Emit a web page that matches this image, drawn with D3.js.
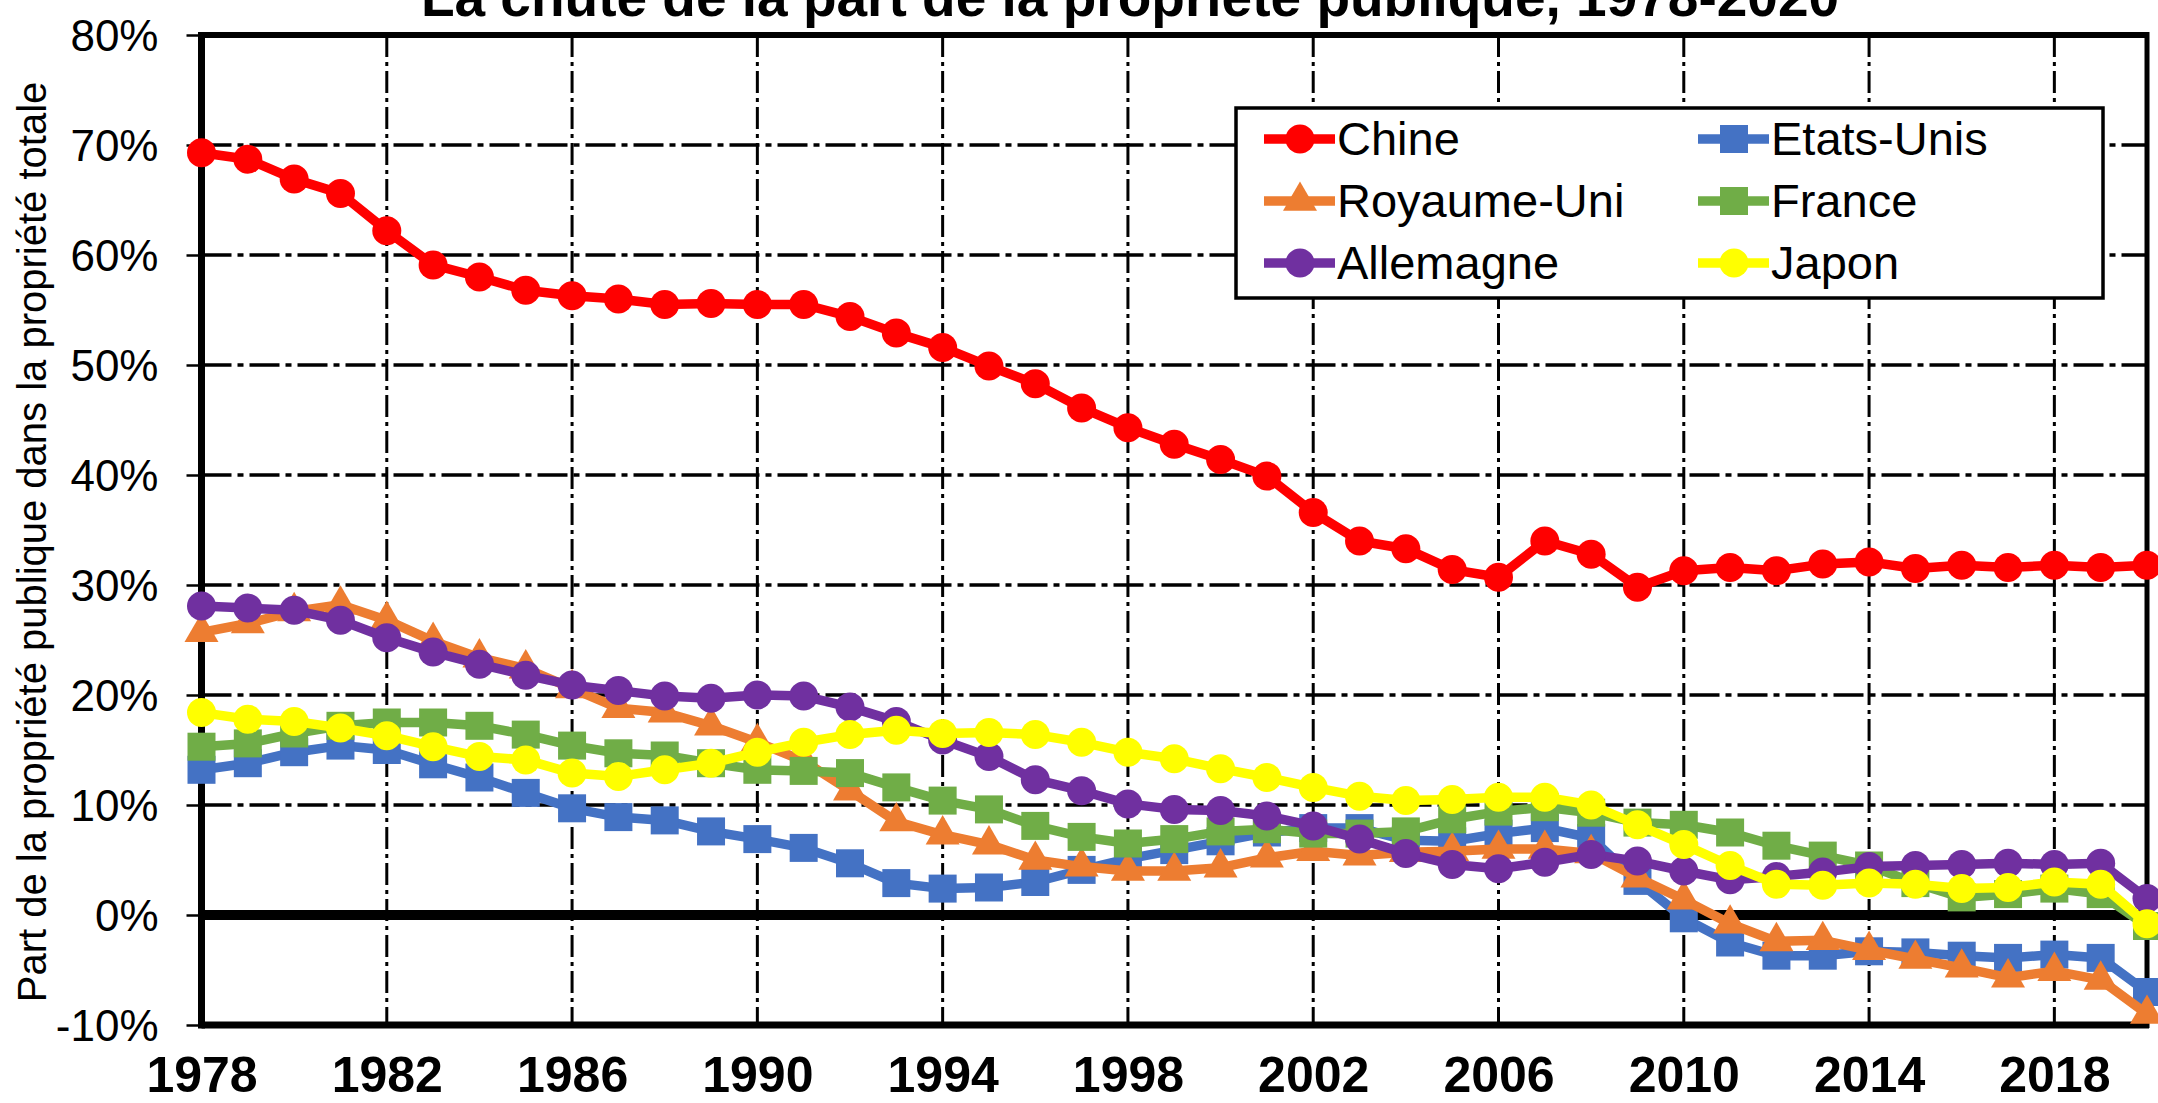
<!DOCTYPE html>
<html><head><meta charset="utf-8">
<script src="https://cdn.jsdelivr.net/npm/d3@7"></script>
<style>html,body{margin:0;padding:0;background:#fff;overflow:hidden}</style>
</head><body><svg id="c" width="2158" height="1103"></svg>
<script>
const years = [1978,1979,1980,1981,1982,1983,1984,1985,1986,1987,1988,1989,1990,1991,1992,1993,1994,1995,1996,1997,1998,1999,2000,2001,2002,2003,2004,2005,2006,2007,2008,2009,2010,2011,2012,2013,2014,2015,2016,2017,2018,2019,2020];
const chine = [69.3,68.7,66.9,65.6,62.2,59.1,58.0,56.8,56.3,56.0,55.5,55.6,55.5,55.5,54.4,52.9,51.6,49.9,48.3,46.1,44.3,42.8,41.4,39.9,36.6,34.0,33.3,31.4,30.7,34.0,32.8,29.8,31.3,31.6,31.3,31.9,32.1,31.5,31.8,31.6,31.8,31.6,31.8];
const etatsUnis = [13.2,13.8,14.8,15.4,15.0,13.7,12.5,11.1,9.7,8.9,8.6,7.6,6.9,6.1,4.7,2.9,2.4,2.5,3.0,4.1,5.1,5.9,6.7,7.5,7.9,7.9,6.8,6.7,7.4,7.9,7.0,3.1,-0.3,-2.5,-3.7,-3.7,-3.3,-3.4,-3.7,-3.9,-3.6,-3.9,-7.0];
const royaumeUni = [25.7,26.5,27.6,28.2,26.8,24.9,23.4,22.4,20.6,18.8,18.4,17.2,15.7,14.0,11.3,8.5,7.3,6.4,5.0,4.4,4.0,4.0,4.3,5.2,5.8,5.4,5.7,5.8,6.0,6.0,5.6,3.4,1.4,-0.8,-2.4,-2.3,-3.2,-4.0,-4.8,-5.7,-5.1,-5.9,-9.0];
const france = [15.3,15.6,16.5,17.2,17.5,17.5,17.2,16.4,15.4,14.7,14.5,13.8,13.2,13.1,12.9,11.6,10.4,9.6,8.1,7.1,6.5,6.9,7.6,7.8,7.4,7.4,7.6,8.7,9.4,9.8,9.3,8.4,8.2,7.5,6.3,5.4,4.5,2.9,1.6,1.9,2.4,1.9,-1.0];
const allemagne = [28.1,27.9,27.7,26.8,25.2,23.9,22.8,21.8,20.9,20.4,19.9,19.7,20.0,19.9,18.9,17.6,15.9,14.4,12.3,11.3,10.1,9.6,9.5,9.0,8.1,6.9,5.6,4.6,4.2,4.8,5.5,4.9,4.0,3.2,3.5,3.9,4.4,4.5,4.6,4.7,4.6,4.7,1.5];
const japon = [18.4,17.8,17.6,17.0,16.3,15.3,14.4,14.1,12.9,12.6,13.2,13.8,14.8,15.7,16.4,16.8,16.5,16.6,16.4,15.7,14.8,14.2,13.3,12.5,11.6,10.8,10.4,10.5,10.7,10.7,10.0,8.2,6.4,4.5,2.8,2.7,2.9,2.8,2.4,2.5,3.0,2.8,-0.8];

const seriesNames = ["Chine","Etats-Unis","Royaume-Uni","France","Allemagne","Japon"];
const seriesValues = [chine, etatsUnis, royaumeUni, france, allemagne, japon];
const seriesColors = ["#ff0000","#4472c4","#ed7d31","#70ad47","#7030a0","#ffff00"];
const seriesSymbols = ["circle","square","triangle","square","circle","circle"];
const yTickValues = [-10,0,10,20,30,40,50,60,70,80];
const xTickValues = [1978,1982,1986,1990,1994,1998,2002,2006,2010,2014,2018];
const titleText = "La chute de la part de la propriété publique, 1978-2020";
const yAxisTitle = "Part de la propriété publique dans la propriété totale";

const FONT = "'Liberation Sans', Arial, Helvetica, sans-serif";
const svg = d3.select("#c");
const x = d3.scaleLinear().domain([1978, 2020]).range([201.5, 2147]);
const y = d3.scaleLinear().domain([-10, 80]).range([1025, 35]);
const [X0, X1] = x.range();
const [Y0, Y1] = y.range();

// horizontal gridlines
svg.append("g").selectAll("line")
  .data(yTickValues.filter(v => v > 0 && v < 80))
  .join("line")
  .attr("x1", X0).attr("x2", X1)
  .attr("y1", d => y(d)).attr("y2", d => y(d))
  .attr("stroke", "#000").attr("stroke-width", 3.5)
  .attr("stroke-dasharray", "30,6,6,6");

// vertical gridlines
svg.append("g").selectAll("line")
  .data(xTickValues.filter(v => v > 1978))
  .join("line")
  .attr("x1", d => x(d)).attr("x2", d => x(d))
  .attr("y1", Y1).attr("y2", Y0)
  .attr("stroke", "#000").attr("stroke-width", 3)
  .attr("stroke-dasharray", "22,5,4,5");

// y axis (ticks + labels)
const yAxis = svg.append("g").attr("transform", `translate(${X0},0)`)
  .call(d3.axisLeft(y).tickValues(yTickValues).tickSize(15).tickPadding(28).tickFormat(d => d + "%"));
yAxis.select(".domain").remove();
yAxis.selectAll(".tick line").attr("stroke", "#000").attr("stroke-width", 2.5);
yAxis.selectAll(".tick text").attr("font-family", FONT).attr("font-size", 44).attr("fill", "#000").attr("dy", "0.35em");

// x axis labels
const xAxis = svg.append("g").attr("transform", `translate(0,${Y0})`)
  .call(d3.axisBottom(x).tickValues(xTickValues).tickSize(0).tickFormat(d3.format("d")));
xAxis.select(".domain").remove();
xAxis.selectAll(".tick text").attr("font-family", FONT).attr("font-size", 50).attr("font-weight", "bold")
  .attr("fill", "#000").attr("y", 67).attr("dy", 0);

// plot border
svg.append("line").attr("x1", X0).attr("x2", X1 + 2).attr("y1", Y1).attr("y2", Y1).attr("stroke", "#000").attr("stroke-width", 6);
svg.append("line").attr("x1", X0).attr("x2", X0).attr("y1", Y1 - 3).attr("y2", Y0 + 3.5).attr("stroke", "#000").attr("stroke-width", 7);
svg.append("line").attr("x1", X1).attr("x2", X1).attr("y1", Y1 - 3).attr("y2", Y0 + 3).attr("stroke", "#000").attr("stroke-width", 5);
svg.append("line").attr("x1", X0).attr("x2", X1 + 2).attr("y1", Y0).attr("y2", Y0).attr("stroke", "#000").attr("stroke-width", 7);
// zero line
svg.append("line").attr("x1", X0).attr("x2", X1).attr("y1", y(0)).attr("y2", y(0)).attr("stroke", "#000").attr("stroke-width", 10);

// series
const symbolType = {circle: d3.symbolCircle, square: d3.symbolSquare, triangle: d3.symbolTriangle};
const symbolSize = {circle: Math.PI * 14.5 * 14.5, square: 28 * 28, triangle: 500};
const line = d3.line().x((d, i) => x(years[i])).y(d => y(d));

seriesValues.forEach((vals, si) => {
  const g = svg.append("g");
  g.append("path").attr("d", line(vals)).attr("fill", "none")
    .attr("stroke", seriesColors[si]).attr("stroke-width", 9.5).attr("stroke-linejoin", "round");
  const sym = d3.symbol().type(symbolType[seriesSymbols[si]]).size(symbolSize[seriesSymbols[si]]);
  g.selectAll("path.m").data(vals).join("path").attr("class", "m")
    .attr("transform", (d, i) => `translate(${x(years[i])},${y(d)})`)
    .attr("d", sym).attr("fill", seriesColors[si]);
});

// legend
const legend = svg.append("g");
legend.append("rect").attr("x", 1236).attr("y", 108).attr("width", 867).attr("height", 190)
  .attr("fill", "#fff").attr("stroke", "#000").attr("stroke-width", 3.5);
const colX = [1264, 1698];
const rowY = [139, 201, 263];
seriesNames.forEach((name, i) => {
  const cx = colX[i % 2], cy = rowY[Math.floor(i / 2)];
  const lg = legend.append("g");
  lg.append("line").attr("x1", cx).attr("x2", cx + 71).attr("y1", cy).attr("y2", cy)
    .attr("stroke", seriesColors[i]).attr("stroke-width", 9.5);
  lg.append("path").attr("transform", `translate(${cx + 36},${cy})`)
    .attr("d", d3.symbol().type(symbolType[seriesSymbols[i]]).size(symbolSize[seriesSymbols[i]]))
    .attr("fill", seriesColors[i]);
  lg.append("text").attr("x", cx + 73).attr("y", cy + 16).text(name)
    .attr("font-family", FONT).attr("font-size", 47).attr("fill", "#000");
});

// title
svg.append("text").attr("x", 1130).attr("y", 16).attr("text-anchor", "middle")
  .attr("font-family", FONT).attr("font-size", 55).attr("font-weight", "bold").attr("fill", "#000")
  .text(titleText);

// y axis title
svg.append("text").attr("transform", "translate(46,542) rotate(-90)").attr("text-anchor", "middle")
  .attr("font-family", FONT).attr("font-size", 40).attr("fill", "#000")
  .text(yAxisTitle);
</script></body></html>
